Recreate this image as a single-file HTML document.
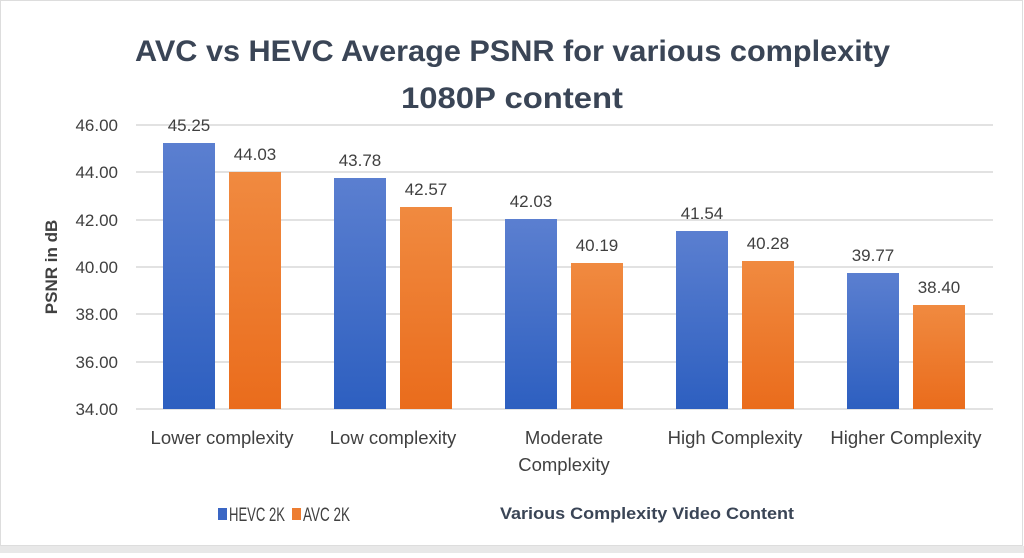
<!DOCTYPE html>
<html><head><meta charset="utf-8"><style>
body{margin:0;width:1024px;height:553px;overflow:hidden;background:#fff;}
text{font-family:"Liberation Sans",sans-serif;}
</style></head><body>
<svg width="1024" height="553" xmlns="http://www.w3.org/2000/svg">
<defs>
<linearGradient id="b" x1="0" y1="0" x2="0" y2="1"><stop offset="0" stop-color="#5b7fd0"/><stop offset="1" stop-color="#2d5fc0"/></linearGradient>
<linearGradient id="o" x1="0" y1="0" x2="0" y2="1"><stop offset="0" stop-color="#f08a40"/><stop offset="1" stop-color="#ea6c1c"/></linearGradient>
</defs>
<rect x="0.5" y="0.5" width="1022" height="545" fill="#fff" stroke="#ddd"/>
<rect x="0" y="546" width="1024" height="7" fill="#e8e8e8"/>
<text x="135" y="61" font-size="30" font-weight="bold" fill="#3a4556" textLength="755" lengthAdjust="spacingAndGlyphs">AVC vs HEVC Average PSNR for various complexity</text>
<text x="401" y="108" font-size="30" font-weight="bold" fill="#3a4556" textLength="222" lengthAdjust="spacingAndGlyphs">1080P content</text>
<g stroke="#d9d9d9" stroke-width="1.5">
<line x1="136" y1="125" x2="993" y2="125"/><line x1="136" y1="172" x2="993" y2="172"/>
<line x1="136" y1="220" x2="993" y2="220"/><line x1="136" y1="267" x2="993" y2="267"/>
<line x1="136" y1="314" x2="993" y2="314"/><line x1="136" y1="362" x2="993" y2="362"/>
<line x1="136" y1="409" x2="993" y2="409"/>
</g>
<g font-size="17" fill="#404040" text-anchor="end">
<text x="118" y="131">46.00</text><text x="118" y="178">44.00</text><text x="118" y="226">42.00</text>
<text x="118" y="273">40.00</text><text x="118" y="320">38.00</text><text x="118" y="368">36.00</text><text x="118" y="415">34.00</text>
</g>
<text transform="translate(57,267) rotate(-90)" text-anchor="middle" font-size="17" font-weight="bold" fill="#404040">PSNR in dB</text>
<g>
<rect x="163" y="143" width="52" height="266" fill="url(#b)"/><rect x="229" y="172" width="52" height="237" fill="url(#o)"/>
<rect x="334" y="178" width="52" height="231" fill="url(#b)"/><rect x="400" y="207" width="52" height="202" fill="url(#o)"/>
<rect x="505" y="219" width="52" height="190" fill="url(#b)"/><rect x="571" y="263" width="52" height="146" fill="url(#o)"/>
<rect x="676" y="231" width="52" height="178" fill="url(#b)"/><rect x="742" y="261" width="52" height="148" fill="url(#o)"/>
<rect x="847" y="273" width="52" height="136" fill="url(#b)"/><rect x="913" y="305" width="52" height="104" fill="url(#o)"/>
</g>
<g font-size="17" fill="#404040" text-anchor="middle">
<text x="189" y="131">45.25</text><text x="255" y="160">44.03</text>
<text x="360" y="166">43.78</text><text x="426" y="195">42.57</text>
<text x="531" y="207">42.03</text><text x="597" y="251">40.19</text>
<text x="702" y="219">41.54</text><text x="768" y="249">40.28</text>
<text x="873" y="261">39.77</text><text x="939" y="293">38.40</text>
</g>
<g font-size="18.5" fill="#404040" text-anchor="middle">
<text x="222" y="444">Lower complexity</text>
<text x="393" y="444">Low complexity</text>
<text x="564" y="444">Moderate</text><text x="564" y="471">Complexity</text>
<text x="735" y="444">High Complexity</text>
<text x="906" y="444">Higher Complexity</text>
</g>
<rect x="218" y="508" width="9" height="12" fill="#3a66c4"/>
<text x="229" y="521" font-size="19" fill="#404040" textLength="56" lengthAdjust="spacingAndGlyphs">HEVC 2K</text>
<rect x="292" y="508" width="9" height="12" fill="#ed7d31"/>
<text x="303" y="521" font-size="19" fill="#404040" textLength="47" lengthAdjust="spacingAndGlyphs">AVC 2K</text>
<text x="500" y="519" font-size="17" font-weight="bold" fill="#3a4556" textLength="294" lengthAdjust="spacingAndGlyphs">Various Complexity Video Content</text>
</svg>
</body></html>
